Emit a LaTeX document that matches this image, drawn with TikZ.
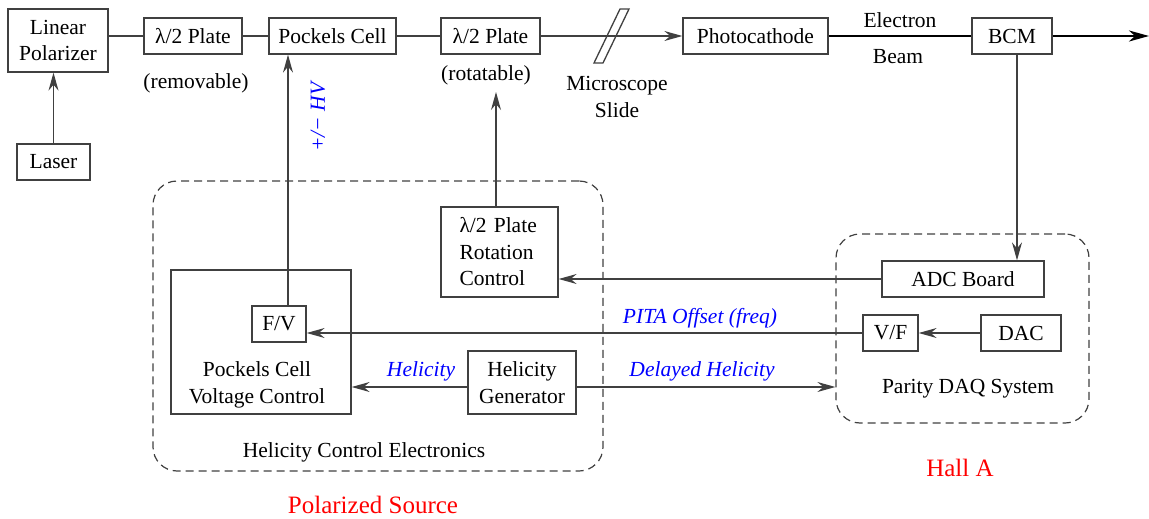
\documentclass[tikz,border=0pt]{standalone}
\usepackage{fontspec}
\setmainfont{Liberation Serif}
\usetikzlibrary{arrows.meta,calc}
\begin{document}
\begin{tikzpicture}[x=1pt,y=-1pt,
 txt/.style={font=\fontsize{21.5}{26.5}\selectfont},
 box/.style={txt,draw=black!75,line width=1.3pt,inner sep=0pt,align=center},
 lbl/.style={txt,inner sep=0pt,align=center},
 blbl/.style={inner sep=0pt,text=blue,font=\fontsize{21.5}{26.5}\selectfont\itshape},
 rlbl/.style={inner sep=0pt,text=red,font=\fontsize{25}{30}\selectfont},
 ln/.style={draw=black!75,line width=1.3pt},
 arr/.style={ln,-{Stealth[length=18pt,width=10pt,inset=6pt]}},
 beam/.style={draw=black,line width=2.4pt},
 grp/.style={draw=black!75,line width=1.2pt,dash pattern=on 8pt off 5pt,rounded corners=24pt,inner sep=0pt},
]
\useasboundingbox (0,0) rectangle (1149,519);

% group boxes
\node[grp,minimum width=450pt,minimum height=290pt] (hce) at (378,326) {};
\node[grp,minimum width=253pt,minimum height=189pt] (daq) at (962.5,328.5) {};

% top row
\node[box,minimum width=100pt,minimum height=63pt] (lp) at (58,40.5) {Linear\\Polarizer};
\node[box,minimum width=73pt,minimum height=36pt] (laser) at (53.5,162) {Laser};
\node[box,minimum width=98pt,minimum height=36pt] (p1) at (193,36) {λ/2 Plate};
\node[box,minimum width=127pt,minimum height=36pt] (pc) at (332.5,36) {Pockels Cell};
\node[box,minimum width=99pt,minimum height=36pt] (p2) at (490.5,36) {λ/2 Plate};
\node[box,minimum width=145pt,minimum height=36pt] (cath) at (755.5,36) {Photocathode};
\node[box,minimum width=80pt,minimum height=36pt] (bcm) at (1012,36) {BCM};
\coordinate (beamend) at (1149,36);

% helicity electronics
\node[box,minimum width=180pt,minimum height=144pt] (pcvc) at (261,342) {};
\node[lbl] (pcvctext) at (257,385) {Pockels Cell\\Voltage Control};
\node[box,minimum width=54pt,minimum height=36pt] (fv) at (279,324) {F/V};
\node[box,minimum width=117pt,minimum height=90pt,text width=80pt,align=left] (rc) at (499.5,252) {λ/2 Plate\\Rotation\\Control};
\node[box,minimum width=108pt,minimum height=63pt] (hg) at (522,382.5) {Helicity\\Generator};

% DAQ
\node[box,minimum width=162pt,minimum height=36pt] (adc) at (963,279) {ADC Board};
\node[box,minimum width=55pt,minimum height=36pt] (vf) at (890.5,333) {V/F};
\node[box,minimum width=80pt,minimum height=36pt] (dac) at (1021,333) {DAC};

% top connectors
\draw[arr] (laser.north) -- (laser.north |- lp.south);
\draw[ln] (p1.west -| lp.east) -- (p1.west);
\draw[ln] (p1.east) -- (pc.west);
\draw[ln] (pc.east) -- (p2.west);
\draw[arr] (p2.east) -- (cath.west);
\draw[ln] (594,63) -- (603,63) -- (629,9) -- (620,9) -- cycle;
\draw[beam] (cath.east) -- (bcm.west);
\draw[beam,-{Stealth[length=20pt,width=11pt,inset=6pt]}] (bcm.east) -- (beamend);

% vertical connectors
\draw[arr] ([xshift=9pt]fv.north) -- ([xshift=9pt]fv.north |- pc.south);
\coordinate (rtip) at (496,92);
\draw[arr] (rc.north -| rtip) -- (rtip);
\draw[arr] ([xshift=5pt]bcm.south) -- ([xshift=5pt]bcm.south |- adc.north);

% horizontal connectors
\draw[arr] (adc.west) -- (adc.west -| rc.east);
\draw[arr] (vf.west) -- (vf.west -| fv.east);
\draw[arr] (dac.west) -- (vf.east);
\draw[arr] ([yshift=-4.5pt]hg.west) -- ([yshift=-4.5pt]hg.west -| pcvc.east);
\draw[arr] ([yshift=-4.5pt]hg.east) -- ([yshift=-4.5pt]hg.east -| daq.west);

% labels
\node[lbl] (el) at (900,20) {Electron};
\node[lbl] (bm) at (898,57) {Beam};
\node[lbl] (rem) at (196,83) {(removable)};
\node[lbl] (rot) at (486,75) {(rotatable)};
\node[lbl] (ms) at (617,97) {Microscope\\Slide};
\node[blbl,rotate=90] (hv) at (318,117) {+/− HV};
\node[blbl] (hel) at (421,371) {Helicity};
\node[blbl] (dhel) at (702,371) {Delayed Helicity};
\node[blbl] (pita) at (700,318) {PITA Offset (freq)};
\node[lbl] (hcel) at (364,452) {Helicity Control Electronics};
\node[lbl] (daql) at (968,389) {Parity DAQ System};
\node[rlbl] (halla) at (960,468) {Hall A};
\node[rlbl] (ps) at (373,505) {Polarized Source};
\end{tikzpicture}
\end{document}
